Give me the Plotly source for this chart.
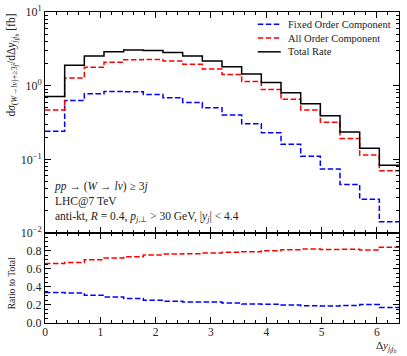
import numpy as np
import plotly.graph_objects as go
from plotly.subplots import make_subplots

# --- datos ---
bin_edges = np.linspace(0.0, 6.4, 19)

total_rate = [0.71, 1.89, 2.52, 2.88, 3.04, 3.00, 2.82, 2.53, 2.16, 1.80,
              1.44, 1.10, 0.80, 0.57, 0.39, 0.235, 0.141, 0.083]
all_order = [0.469, 1.268, 1.774, 2.08, 2.24, 2.27, 2.16, 1.95, 1.68, 1.415,
             1.14, 0.884, 0.652, 0.469, 0.319, 0.1925, 0.1144, 0.0698]
fixed_order = [0.240, 0.63, 0.776, 0.832, 0.824, 0.76, 0.685, 0.59, 0.503, 0.40,
               0.304, 0.229, 0.16, 0.11, 0.0737, 0.0454, 0.0288, 0.0142]

log_ticks = [10, 1, 0.1, 0.01]
log_labels = ["10<sup>1</sup>", "10<sup>0</sup>", "10<sup>\u22121</sup>", "10<sup>\u22122</sup>"]
ratio_ticks = [0.0, 0.2, 0.4, 0.6, 0.8]

FONT = "Liberation Serif"
BLUE = "#0000ff"
RED = "#ff0000"
DASH = "5.5px,2.5px"


def escalon(vals):
    # histograma en escalones: un punto por borde de bin
    return list(bin_edges), list(vals) + [vals[-1]]


fig = make_subplots(rows=2, cols=1, shared_xaxes=True, vertical_spacing=0,
                    row_heights=[0.7106, 0.2894])

series = [
    ("Fixed Order Component", fixed_order, BLUE, DASH),
    ("All Order Component", all_order, RED, DASH),
    ("Total Rate", total_rate, "black", "solid"),
]

for nombre, vals, color, dash in series:
    x, y = escalon(vals)
    fig.add_trace(go.Scatter(x=x, y=y, mode="lines", name=nombre, line_shape="hv",
                             showlegend=False,
                             line=dict(color=color, width=1.5, dash=dash)), row=1, col=1)

# ratios respecto al total
for vals, color in [(all_order, RED), (fixed_order, BLUE)]:
    ratio = [v / t for v, t in zip(vals, total_rate)]
    x, y = escalon(ratio)
    fig.add_trace(go.Scatter(x=x, y=y, mode="lines", showlegend=False, line_shape="hv",
                             line=dict(color=color, width=1.5, dash=DASH)), row=2, col=1)

eje = dict(showline=True, linecolor="black", linewidth=1, mirror="allticks",
           ticks="inside", ticklen=6, tickwidth=1, tickcolor="black",
           showgrid=False, zeroline=False, automargin=False,
           tickfont=dict(family=FONT, size=12, color="#222"))

minor_x = dict(ticks="inside", ticklen=3, tickwidth=1, tickcolor="black", dtick=0.2, showgrid=False)
fig.update_xaxes(range=[0, 6.4], dtick=1, tick0=0, minor=minor_x, **eje)
fig.update_xaxes(showticklabels=False, row=1, col=1)
fig.update_xaxes(ticklabelstandoff=-2, tickfont_size=11.5, row=2, col=1)

minor_log = dict(ticks="inside", ticklen=3, tickwidth=1, tickcolor="black", showgrid=False,
                 tickmode="array",
                 tickvals=[k * 10.0 ** e for e in range(-2, 1) for k in range(2, 10)])
fig.update_yaxes(type="log", range=[-2, 1], tickmode="array", tickvals=log_ticks,
                 ticktext=log_labels, minor=minor_log, row=1, col=1, **eje)
fig.update_yaxes(range=[0, 1], tickmode="array", tickvals=ratio_ticks, tickformat=".1f",
                 minor=dict(ticks="inside", ticklen=3, tickwidth=1, tickcolor="black",
                            dtick=0.05, tick0=0, showgrid=False),
                 row=2, col=1, **eje)

ylab = ("d<i>\u03c3</i><sub>(<i>W</i>\u2192<i>l\u03bd</i>)+\u22653<i>j</i></sub>"
        "/d\u0394<i>y</i><sub><i>j<sub>f</sub>j<sub>b</sub></i></sub> [fb]")
texto = ("<i>pp</i> \u2192 (<i>W</i> \u2192 <i>l\u03bd</i>) \u2265 3<i>j</i><br>"
         "LHC@7 TeV<br>"
         "anti-kt, <i>R</i> = 0.4, <i>p</i><sub><i>j</i>,\u22a5</sub> > 30 GeV, |<i>y<sub>j</sub></i>| < 4.4")

anotaciones = [
    dict(text=ylab, xref="paper", yref="paper", x=-0.093, y=1.0, xanchor="center",
         yanchor="top", textangle=-90, showarrow=False, font=dict(family=FONT, size=11.5)),
    dict(text="Ratio to Total", xref="paper", yref="paper", x=-0.093, y=0.128,
         xanchor="center", yanchor="middle", textangle=-90, showarrow=False,
         font=dict(family=FONT, size=9.5)),
    dict(text="\u0394<i>y</i><sub><i>j<sub>f</sub>j<sub>b</sub></i></sub>", xref="paper",
         yref="paper", x=1.0, y=-0.077, xanchor="right", yanchor="middle",
         showarrow=False, font=dict(family=FONT, size=11)),
    dict(text=texto, xref="paper", yref="paper", x=0.019, y=0.389, xanchor="left",
         yanchor="middle", align="left", showarrow=False,
         font=dict(family=FONT, size=11.5)),
]

# leyenda dibujada a mano (filas más juntas que la leyenda de plotly)
lineas = []
for i, (nombre, vals, color, dash) in enumerate(series):
    yl = 0.9605 - i * 0.0443
    lineas.append(dict(type="line", xref="paper", yref="paper", x0=0.601, x1=0.666,
                       y0=yl, y1=yl, line=dict(color=color, width=1.5, dash=dash)))
    anotaciones.append(dict(text=nombre, xref="paper", yref="paper", x=0.682, y=yl,
                            xanchor="left", yanchor="middle", showarrow=False,
                            font=dict(family=FONT, size=10.5)))

fig.update_layout(
    width=407, height=356,
    margin=dict(l=45, r=8, t=12, b=33),
    paper_bgcolor="white", plot_bgcolor="white",
    font=dict(family=FONT, size=11, color="#222"),
    showlegend=False,
    hovermode=False,
    annotations=anotaciones,
    shapes=lineas,
)

# sin margen del body para que la figura ocupe justo la ventana
fig.write_html("out.html", config={"displayModeBar": False},
               post_script="document.body.style.margin='0';document.body.style.overflow='hidden';")
